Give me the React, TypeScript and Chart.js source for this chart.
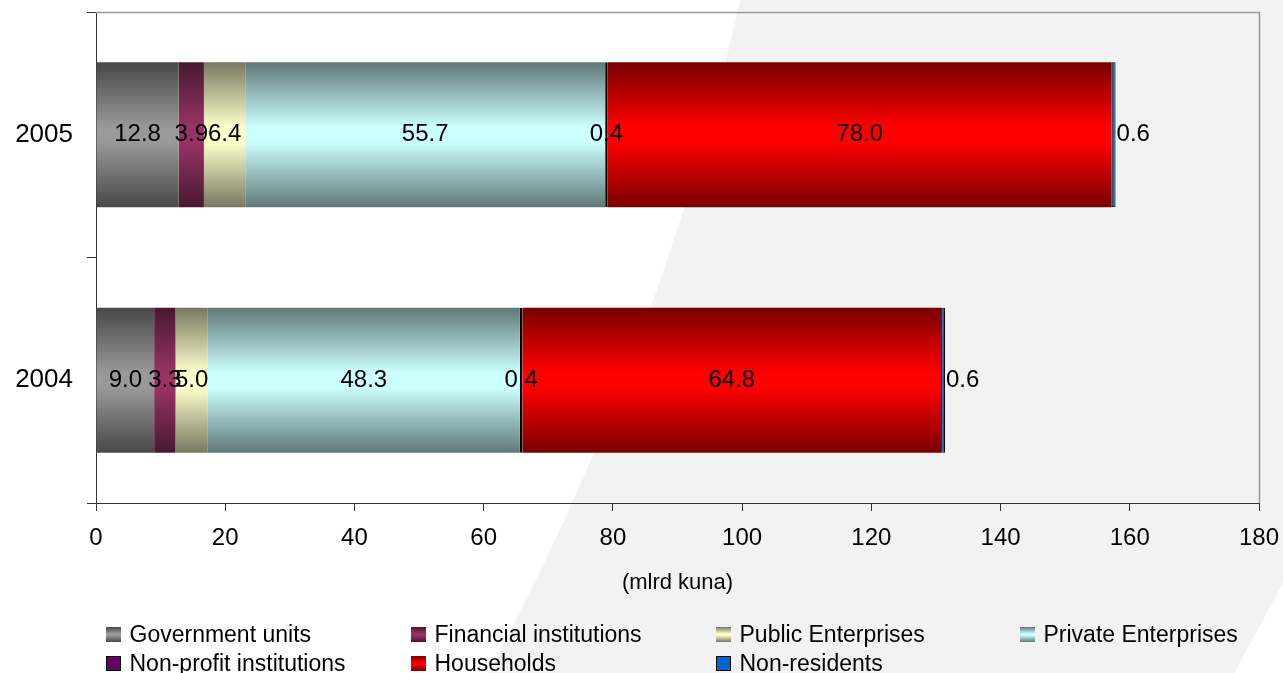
import React, { useEffect, useRef } from "react";
import { Chart, registerables } from "chart.js";

Chart.register(...registerables);

// ---- Data ----
const years = ["2005", "2004"];
const seriesNames = [
  "Government units",
  "Financial institutions",
  "Public Enterprises",
  "Private Enterprises",
  "Non-profit institutions",
  "Households",
  "Non-residents",
];
const governmentUnits = [12.8, 9.0];
const financialInstitutions = [3.9, 3.3];
const publicEnterprises = [6.4, 5.0];
const privateEnterprises = [55.7, 48.3];
const nonProfitInstitutions = [0.4, 0.4];
const households = [78.0, 64.8];
const nonResidents = [0.6, 0.6];
const xMin = 0;
const xMax = 180;
const xStep = 20;
const axisTitle = "(mlrd kuna)";

// ---- Styles ----
const seriesColors = ["#999999", "#993366", "#ffffcc", "#ccffff", "#660066", "#ff0000", "#0066cc"];
const seriesGradient = [true, true, true, true, false, true, false];
const seriesBorderWidth = [0, 0, 0, 0, 2, 0, 1];
const FONT = "'Liberation Sans', Arial, Helvetica, sans-serif";
const BAR_PCT = 0.59;

function darken(hex: string, f: number): string {
  const n = parseInt(hex.slice(1), 16);
  const r = Math.round(((n >> 16) & 255) * f);
  const g = Math.round(((n >> 8) & 255) * f);
  const b = Math.round((n & 255) * f);
  return `rgb(${r},${g},${b})`;
}

const allSeries = [
  governmentUnits,
  financialInstitutions,
  publicEnterprises,
  privateEnterprises,
  nonProfitInstitutions,
  households,
  nonResidents,
];

function makeFill(si: number) {
  const mid = seriesColors[si];
  if (!seriesGradient[si]) return mid;
  const edge = darken(mid, 0.47);
  return (c: any) => {
    const chart = c.chart;
    const area = chart.chartArea;
    const ys = chart.scales && chart.scales.y;
    if (!area || !ys || c.dataIndex === undefined) return mid;
    const center = ys.getPixelForValue(c.dataIndex);
    const h = ((area.bottom - area.top) / years.length) * BAR_PCT;
    const g = chart.ctx.createLinearGradient(0, center - h / 2, 0, center + h / 2);
    g.addColorStop(0, edge);
    g.addColorStop(0.45, mid);
    g.addColorStop(0.55, mid);
    g.addColorStop(1, edge);
    return g;
  };
}

const bgPlugin = {
  id: "bgShape",
  beforeDraw(chart: any) {
    const { ctx, width, height } = chart;
    ctx.save();
    ctx.fillStyle = "#ffffff";
    ctx.fillRect(0, 0, width, height);
    ctx.fillStyle = "#f2f2f2";
    ctx.beginPath();
    ctx.moveTo(width * 0.577, 0);
    ctx.lineTo(width, 0);
    ctx.lineTo(width, height * 0.866);
    ctx.lineTo(width * 0.962, height);
    ctx.lineTo(width * 0.381, height);
    ctx.quadraticCurveTo(width * 0.515, height * 0.52, width * 0.577, 0);
    ctx.closePath();
    ctx.fill();
    ctx.restore();
  },
  beforeDatasetsDraw(chart: any) {
    const { ctx, chartArea } = chart;
    ctx.save();
    ctx.strokeStyle = "#999999";
    ctx.lineWidth = 1.5;
    ctx.beginPath();
    ctx.moveTo(chartArea.left, Math.round(chartArea.top) + 0.5);
    ctx.lineTo(Math.round(chartArea.right) + 0.5, Math.round(chartArea.top) + 0.5);
    ctx.lineTo(Math.round(chartArea.right) + 0.5, chartArea.bottom);
    ctx.stroke();
    ctx.restore();
  },
};

const labelPlugin = {
  id: "segLabels",
  afterDatasetsDraw(chart: any) {
    const ctx = chart.ctx;
    ctx.save();
    ctx.font = `24px ${FONT}`;
    ctx.fillStyle = "#000000";
    ctx.textBaseline = "middle";
    const n = chart.data.datasets.length;
    chart.data.datasets.forEach((ds: any, di: number) => {
      const meta = chart.getDatasetMeta(di);
      meta.data.forEach((bar: any, i: number) => {
        const v = ds.data[i] as number;
        const { x, y, base } = bar.getProps(["x", "y", "base"], true);
        const text = v.toFixed(1);
        if (di === n - 1) {
          ctx.textAlign = "left";
          ctx.fillText(text, Math.max(x, base) + 1, y);
        } else {
          ctx.textAlign = "center";
          ctx.fillText(text, (x + base) / 2, y);
        }
      });
    });
    ctx.restore();
  },
};

function legendSwatch(si: number): React.CSSProperties {
  const mid = seriesColors[si];
  const style: React.CSSProperties = {
    width: 15,
    height: 15,
    boxSizing: "border-box",
    flex: "0 0 auto",
  };
  if (seriesGradient[si]) {
    const edge = darken(mid, 0.47);
    style.background = `linear-gradient(to bottom, ${edge}, ${mid} 45%, ${mid} 55%, ${edge})`;
  } else {
    style.background = mid;
    style.border = "1px solid #000";
  }
  return style;
}

const legendCols = [106, 411, 716, 1020];
const legendRows = [634, 663];

export default function App() {
  const canvasRef = useRef<HTMLCanvasElement | null>(null);

  useEffect(() => {
    if (!canvasRef.current) return;
    const datasets = allSeries.map((data, si) => ({
      label: seriesNames[si],
      data,
      backgroundColor: makeFill(si),
      borderColor: "#000000",
      borderWidth: seriesBorderWidth[si],
      borderSkipped: false,
      categoryPercentage: 1,
      barPercentage: BAR_PCT,
    }));
    const chart = new Chart(canvasRef.current, {
      type: "bar",
      data: { labels: years, datasets: datasets as any },
      plugins: [bgPlugin, labelPlugin],
      options: {
        indexAxis: "y",
        animation: false,
        responsive: false,
        maintainAspectRatio: false,
        devicePixelRatio: 1,
        layout: { padding: { left: 0, right: 24, top: 12, bottom: 0 } },
        plugins: {
          legend: { display: false },
          tooltip: { enabled: false },
        },
        scales: {
          x: {
            type: "linear",
            stacked: true,
            min: xMin,
            max: xMax,
            ticks: {
              stepSize: xStep,
              color: "#000000",
              font: { family: FONT, size: 24 },
              padding: 13,
              maxRotation: 0,
            },
            grid: {
              display: true,
              drawOnChartArea: false,
              drawTicks: true,
              tickLength: 8,
              color: "#333333",
            },
            border: { display: true, color: "#333333", width: 1 },
            title: {
              display: true,
              text: axisTitle,
              color: "#000000",
              font: { family: FONT, size: 22 },
              padding: { top: 0, bottom: 77 },
            },
            afterFit: (scale: any) => {
              scale.height = 170;
              scale.paddingLeft = 0;
              scale.paddingRight = 0;
            },
          },
          y: {
            type: "category",
            stacked: true,
            ticks: {
              color: "#000000",
              font: { family: FONT, size: 26 },
              padding: 14,
            },
            grid: {
              display: true,
              offset: true,
              drawOnChartArea: false,
              drawTicks: true,
              tickLength: 9,
              color: "#333333",
            },
            border: { display: true, color: "#333333", width: 1 },
            afterFit: (scale: any) => {
              scale.width = 96;
              scale.paddingTop = 0;
              scale.paddingBottom = 0;
            },
          },
        },
      } as any,
    });
    return () => chart.destroy();
  }, []);

  return (
    <div style={{ position: "fixed", left: 0, top: 0, width: 1283, height: 673, overflow: "hidden" }}>
      <canvas ref={canvasRef} width={1283} height={673} style={{ display: "block", width: 1283, height: 673 }} />
      {seriesNames.map((name, si) => (
        <div
          key={name}
          style={{
            position: "absolute",
            left: legendCols[si % 4],
            top: legendRows[Math.floor(si / 4)] - 15,
            height: 30,
            display: "flex",
            alignItems: "center",
            whiteSpace: "nowrap",
            fontFamily: FONT,
            fontSize: 23,
            lineHeight: 1,
            color: "#000",
          }}
        >
          <span style={legendSwatch(si)} />
          <span style={{ marginLeft: 8.5 }}>{name}</span>
        </div>
      ))}
    </div>
  );
}
